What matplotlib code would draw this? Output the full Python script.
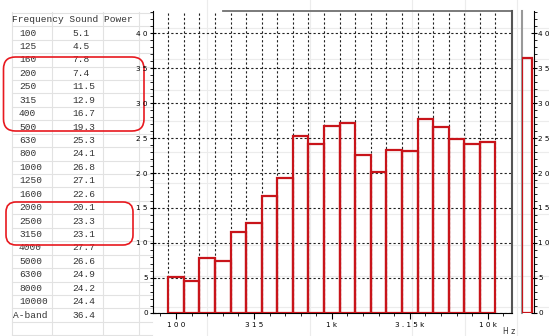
import numpy as np
import matplotlib.pyplot as plt
from matplotlib.patches import FancyBboxPatch
from matplotlib.ticker import MultipleLocator, FuncFormatter

# 1/3 octave bands and sound power levels
freqs = ['100', '125', '160', '200', '250', '315', '400', '500', '630', '800',
         '1000', '1250', '1600', '2000', '2500', '3150', '4000', '5000',
         '6300', '8000', '10000']
power = [5.1, 4.5, 7.8, 7.4, 11.5, 12.9, 16.7, 19.3, 25.3, 24.1,
         26.8, 27.1, 22.6, 20.1, 23.3, 23.1, 27.7, 26.6, 24.9, 24.2, 24.4]
a_band = 36.4
xtick_pos = [0, 5, 10, 15, 20]
xtick_labels = ['100', '315', '1k', '3.15k', '10k']

W, H = 549, 336
RED = '#c8141a'
TXT = '#333333'
MONO = 'Liberation Mono'


def spaced(s):
    return ' '.join(s)


def px_rect(left, top, right, bottom):
    return [left / W, 1 - bottom / H, (right - left) / W, (bottom - top) / H]


fig = plt.figure(figsize=(W / 100, H / 100), dpi=100)

# spreadsheet behind the chart
bg = fig.add_axes([0, 0, 1, 1])
bg.set_xlim(0, W)
bg.set_ylim(H, 0)
bg.axis('off')

row_h = 13.43
for k in range(25):
    bg.plot([12, 152], [12.9 + k * row_h] * 2, color='#e2e2e2', lw=0.8)
for xc in [12, 52, 103, 139]:
    bg.plot([xc, xc], [12, H], color='#e2e2e2', lw=0.8)
for yc in np.arange(28, 312, 31):
    bg.plot([152, W], [yc, yc], color='#ececec', lw=0.8)
for xc in [206.7, 310, 411.7, 465, 516.7]:
    bg.plot([xc, xc], [0, H], color='#ececec', lw=0.8)

fs = 6.8
bg.text(12, 19.6, 'Frequency Sound Power', family=MONO, fontsize=fs,
        va='center', color=TXT)
for i, (f, p) in enumerate(zip(freqs, power)):
    y = 33 + i * row_h
    bg.text(19, y, f, family=MONO, fontsize=fs, va='center', color=TXT)
    bg.text(72.7, y, f'{p:.1f}', family=MONO, fontsize=fs, va='center', color=TXT)
y = 33 + len(freqs) * row_h
bg.text(13, y, 'A-band', family=MONO, fontsize=fs, va='center', color=TXT)
bg.text(72.7, y, f'{a_band:.1f}', family=MONO, fontsize=fs, va='center', color=TXT)

# red highlight boxes
bg.add_patch(FancyBboxPatch((3.5, 57), 140.5, 74, boxstyle='round,pad=0,rounding_size=12',
                            fill=False, edgecolor='#e8191f', lw=1.2, zorder=5))
bg.add_patch(FancyBboxPatch((6, 202), 127, 43, boxstyle='round,pad=0,rounding_size=10',
                            fill=False, edgecolor='#e8191f', lw=1.2, zorder=5))

# main band chart
ax = fig.add_axes(px_rect(152.7, 11, 511.7, 312.7), facecolor='none', zorder=2)
x = np.arange(len(freqs))
ax.bar(x, power, width=1.0, fill=False, edgecolor=RED, linewidth=1.6, zorder=3)
ax.set_xlim(-1.495, 21.54)
ax.set_ylim(0, 43.2)

edges = np.arange(len(freqs) + 1) - 0.5
ax.vlines(edges, 0, 1, transform=ax.get_xaxis_transform(), colors='#222',
          linestyles=(0, (2, 2)), lw=0.8, zorder=1)
ax.yaxis.set_major_locator(MultipleLocator(5))
ax.yaxis.set_minor_locator(MultipleLocator(1))
ax.grid(axis='y', which='major', color='#222', ls=(0, (2, 2)), lw=0.8)
ax.yaxis.set_major_formatter(FuncFormatter(lambda v, p: spaced(str(int(v)))))

ax.set_xticks(xtick_pos, [spaced(t) for t in xtick_labels])
ax.set_xticks(np.arange(-1, 22), minor=True)
ax.tick_params(axis='x', which='major', direction='out', length=4.5, labelsize=5.2, pad=2)
ax.tick_params(axis='x', which='minor', direction='out', length=2.5)
ax.tick_params(axis='y', which='major', direction='inout', length=5, labelsize=5.2, pad=1)
ax.tick_params(axis='y', which='minor', direction='out', length=2.5)

ax.spines['top'].set_visible(False)
ax.spines['right'].set_color('#555555')
ax.spines['right'].set_linewidth(1.5)
ax.plot([(223 - 152.7) / 359, 1], [1, 1], transform=ax.transAxes,
        color='#707070', lw=1.3, clip_on=False)

# A-band panel
rp = fig.add_axes(px_rect(521.5, 11, 533.5, 312.7), facecolor='none', zorder=2)
rp.bar([0], [a_band], width=1, align='edge', fill=False, edgecolor=RED,
       linewidth=1.6, zorder=4)
rp.set_xlim(0, 1.1)
rp.set_ylim(0, 43.2)
rp.set_xticks([])
rp.yaxis.tick_right()
rp.yaxis.set_major_locator(MultipleLocator(5))
rp.yaxis.set_minor_locator(MultipleLocator(1))
rp.yaxis.set_major_formatter(FuncFormatter(lambda v, p: spaced(str(int(v)))))
rp.tick_params(axis='y', which='major', direction='inout', length=5, labelsize=5.2, pad=1)
rp.tick_params(axis='y', which='minor', direction='out', length=2.5)
rp.spines['top'].set_visible(False)
rp.spines['bottom'].set_visible(False)
rp.spines['left'].set_color('#999999')
rp.spines['left'].set_linewidth(1.5)

fig.text(503 / W, 1 - 335.5 / H, 'H z', va='bottom', fontsize=5.5, color=TXT)

fig.savefig('out.png', dpi=100)
